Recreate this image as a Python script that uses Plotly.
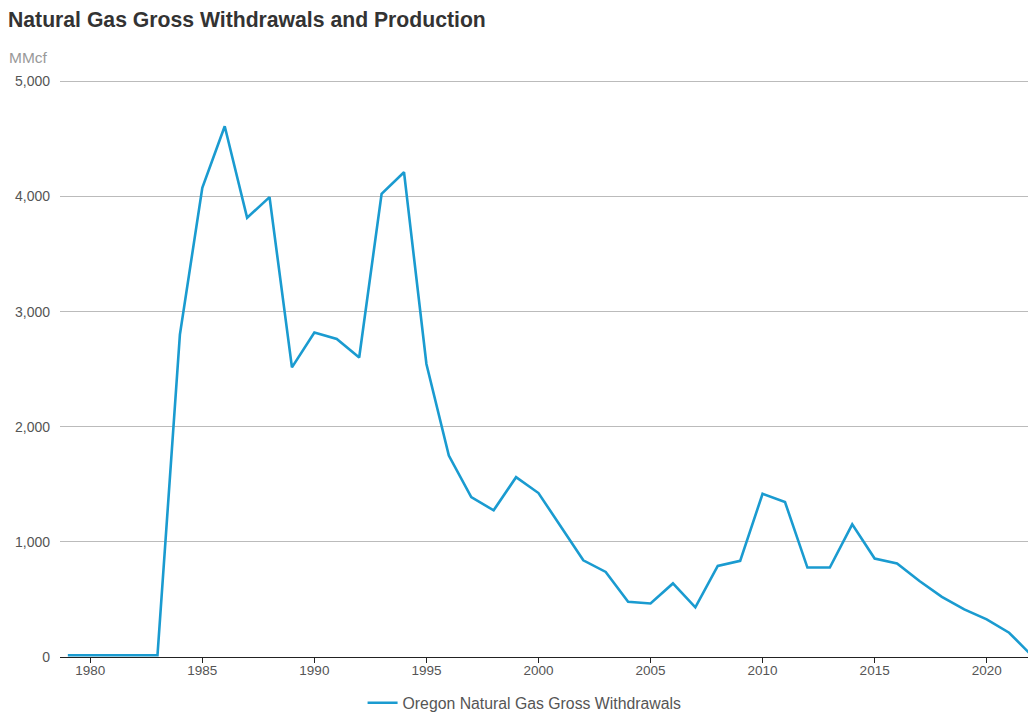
import plotly.graph_objects as go

years = list(range(1979, 2023))
withdrawals = [15, 15, 15, 15, 15, 2800, 4075, 4610, 3815, 3995, 2516, 2819, 2762, 2602,
               4023, 4211, 2545, 1750, 1389, 1274, 1562, 1424, 1130, 840, 739, 479,
               465, 639, 431, 791, 835, 1418, 1346, 777, 777, 1152, 855, 812, 660,
               523, 413, 327, 211, 15]
series_name = "Oregon Natural Gas Gross Withdrawals"
title_text = "Natural Gas Gross Withdrawals and Production"
unit_text = "MMcf"
x_ticks = [1980, 1985, 1990, 1995, 2000, 2005, 2010, 2015, 2020]
y_ticks = [0, 1000, 2000, 3000, 4000, 5000]

# page body has an 8px margin; size the figure so the plot lands where the reference has it
W, H = 1028, 712
ML, MR, MT, MB = 52, 0, 72, 63
PW = W - ML - MR
PH = H - MT - MB

fig = go.Figure()
fig.add_trace(go.Scatter(x=years, y=withdrawals, mode="lines", name=series_name,
                         line=dict(color="#1a9bd0", width=2.6)))

font_family = "Liberation Sans, Arial, sans-serif"
fig.update_layout(
    width=W, height=H,
    margin=dict(l=ML, r=MR, t=MT, b=MB, autoexpand=False),
    paper_bgcolor="white", plot_bgcolor="white",
    font=dict(family=font_family, size=13, color="#555"),
    showlegend=True,
    legend=dict(orientation="h", x=0.476, xanchor="center", y=-46 / PH, yanchor="middle",
                font=dict(size=15.8, color="#555"), bgcolor="rgba(0,0,0,0)"),
    xaxis=dict(range=[1978.65, 2022.2], tickvals=x_ticks, showgrid=False,
               showline=True, linecolor="#222", linewidth=1.2,
               ticks="outside", ticklen=5, tickcolor="#222", ticklabelstandoff=-4,
               tickfont=dict(size=13.5, color="#555"), zeroline=False),
    yaxis=dict(range=[0, 5012], tickvals=y_ticks, tickformat=",",
               showgrid=True, gridcolor="#bbbbbb", gridwidth=1,
               zeroline=False, showline=False, ticks="", ticklabelstandoff=9,
               tickfont=dict(size=14, color="#555")),
    annotations=[
        dict(text="<b>" + title_text + "</b>", xref="paper", yref="paper",
             x=(-ML - 2) / PW, y=1.0, xanchor="left", yanchor="middle", yshift=61,
             showarrow=False, font=dict(size=21.2, color="#333", family=font_family)),
        dict(text=unit_text, xref="paper", yref="paper", x=(-ML - 1) / PW, y=1.0,
             xanchor="left", yanchor="middle", yshift=23, showarrow=False,
             font=dict(size=15.5, color="#999", family=font_family)),
    ],
)

fig.write_html("out.html")
